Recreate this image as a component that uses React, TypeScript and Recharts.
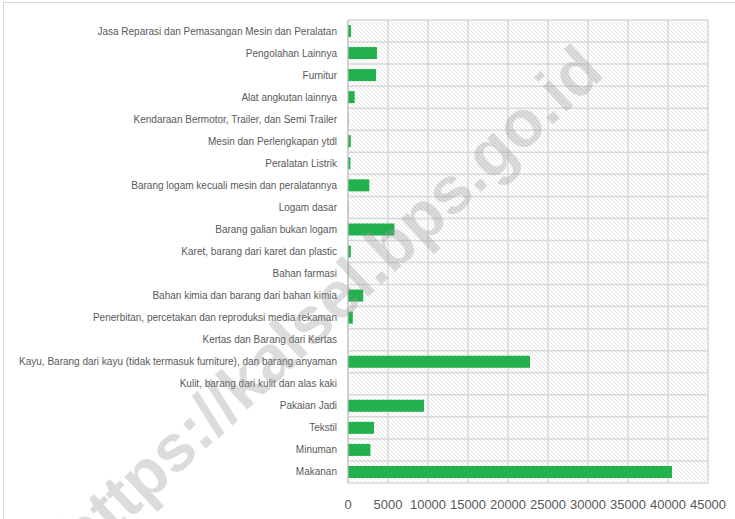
import { Bar, BarChart, CartesianGrid, XAxis, YAxis } from "recharts";

// categories listed top to bottom as shown
const categories = [
  "Jasa Reparasi dan Pemasangan Mesin dan Peralatan",
  "Pengolahan Lainnya",
  "Furnitur",
  "Alat angkutan lainnya",
  "Kendaraan Bermotor, Trailer, dan Semi Trailer",
  "Mesin dan Perlengkapan ytdl",
  "Peralatan Listrik",
  "Barang logam kecuali mesin dan peralatannya",
  "Logam dasar",
  "Barang galian bukan logam",
  "Karet, barang dari karet dan plastic",
  "Bahan farmasi",
  "Bahan kimia dan barang dari bahan kimia",
  "Penerbitan, percetakan dan reproduksi media rekaman",
  "Kertas dan Barang dari Kertas",
  "Kayu, Barang dari kayu (tidak termasuk furniture), dan barang anyaman",
  "Kulit, barang dari kulit dan alas kaki",
  "Pakaian Jadi",
  "Tekstil",
  "Minuman",
  "Makanan",
];

const values = [
  380, 3620, 3500, 830, 40, 350, 300, 2670, 40, 5800, 350, 40, 1900, 600, 0,
  22750, 0, 9500, 3250, 2800, 40500,
];

const xTicks = [0, 5000, 10000, 15000, 20000, 25000, 30000, 35000, 40000, 45000];

const data = categories.map((name, i) => ({ name, value: values[i] }));

const gridColor = "#d9d9d9";
const textColor = "#595959";
const font = "'Liberation Sans', Arial, sans-serif";

// plain single-line label, Recharts would wrap the long ones
function CategoryTick({ x, y, payload }: any) {
  return (
    <text x={x} y={y} textAnchor="end" dominantBaseline="central" fill={textColor} fontSize={10} fontFamily={font}>
      {payload.value}
    </text>
  );
}

export default function App() {
  return (
    <div style={{ position: "absolute", left: 0, top: 0, width: 735, height: 519, overflow: "hidden", background: "#fff" }}>
      <div
        style={{
          position: "absolute",
          left: 3,
          top: 2,
          width: 760,
          height: 560,
          border: "1px solid #d9d9d9",
        }}
      />
      <BarChart
        width={735}
        height={519}
        layout="vertical"
        data={data}
        margin={{ top: 20, right: 27, bottom: 6, left: 0 }}
        barSize={12}
        style={{ position: "absolute", left: 0, top: 0 }}
      >
        <defs>
          <pattern id="hatch" patternUnits="userSpaceOnUse" width={4} height={4}>
            <path d="M0,0 L4,4 M-1,3 L1,5 M3,-1 L5,1" stroke="#e0e0e0" strokeWidth={0.8} />
          </pattern>
        </defs>
        <CartesianGrid
          fill="url(#hatch)"
          stroke={gridColor}
          strokeWidth={1.5}
          horizontalCoordinatesGenerator={({ offset }: any) =>
            categories.concat([""]).map((_, i) => offset.top + (i * offset.height) / categories.length)
          }
        />
        <XAxis
          type="number"
          domain={[0, 45000]}
          ticks={xTicks}
          interval={0}
          axisLine={false}
          tickLine={false}
          tickSize={0}
          tickMargin={17}
          height={30}
          tick={{ fill: textColor, fontSize: 13, fontFamily: font }}
        />
        <YAxis
          type="category"
          dataKey="name"
          width={348}
          interval={0}
          axisLine={{ stroke: "#bfbfbf" }}
          tickLine={false}
          tickSize={0}
          tickMargin={11}
          tick={<CategoryTick />}
        />
        <Bar dataKey="value" fill="#22b14c" isAnimationActive={false} />
      </BarChart>
      <div
        style={{
          position: "absolute",
          left: 329,
          top: 302,
          transform: "translate(-50%, -50%) rotate(-43deg)",
          fontFamily: font,
          fontWeight: "bold",
          fontSize: 66,
          color: "rgba(150,150,150,0.33)",
          whiteSpace: "nowrap",
          pointerEvents: "none",
        }}
      >
        https://kalsel.bps.go.id
      </div>
    </div>
  );
}
